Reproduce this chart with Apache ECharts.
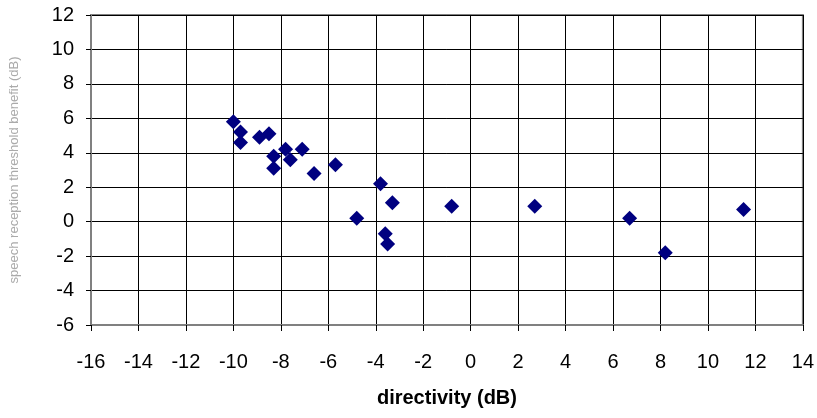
<!DOCTYPE html>
<html>
<head>
<meta charset="utf-8">
<script src="https://cdn.jsdelivr.net/npm/echarts@6/dist/echarts.min.js"></script>
<style>html,body{margin:0;padding:0;background:#fff}#c{width:817px;height:418px}</style>
</head>
<body>
<div id="c"></div>
<script>
const xValues = [-10.0, -9.7, -9.7, -8.9, -8.5, -8.3, -8.3, -7.8, -7.6, -7.1, -6.6, -5.7, -3.8, -3.3, -4.8, -3.6, -3.5, -0.8, 2.7, 6.7, 8.2, 11.5];
const yValues = [5.8, 5.2, 4.6, 4.9, 5.1, 3.8, 3.1, 4.2, 3.6, 4.2, 2.8, 3.3, 2.2, 1.1, 0.2, -0.7, -1.3, 0.9, 0.9, 0.2, -1.8, 0.7];
const xAxisTitle = 'directivity (dB)';
const yAxisTitle = 'speech reception threshold benefit (dB)';

const data = xValues.map((x, i) => [x, yValues[i]]);
const chart = echarts.init(document.getElementById('c'), null, {renderer: 'canvas'});
chart.setOption({
  animation: false,
  backgroundColor: '#fff',
  grid: {left: 89, right: 14, top: 15, bottom: 93, show: true, borderColor: '#808080', borderWidth: 2, backgroundColor: 'transparent'},
  xAxis: {
    type: 'value', min: -16, max: 14, interval: 2,
    name: xAxisTitle, nameLocation: 'middle', nameGap: 63,
    nameTextStyle: {fontFamily: 'Liberation Sans', fontSize: 20, fontWeight: 'bold', color: '#000'},
    axisLine: {show: true, onZero: false, lineStyle: {color: '#808080', width: 2}},
    axisTick: {show: true, length: 6, lineStyle: {color: '#000'}},
    axisLabel: {fontFamily: 'Liberation Sans', fontSize: 20, color: '#000', margin: 27},
    splitLine: {show: true, lineStyle: {color: '#000', width: 1}}
  },
  yAxis: {
    type: 'value', min: -6, max: 12, interval: 2,
    name: yAxisTitle, nameLocation: 'middle', nameGap: 70, nameRotate: 90,
    nameTextStyle: {fontFamily: 'Liberation Sans', fontSize: 13, color: '#aaa'},
    axisLine: {show: true, onZero: false, lineStyle: {color: '#808080', width: 2}},
    axisTick: {show: true, length: 5, lineStyle: {color: '#000'}},
    axisLabel: {fontFamily: 'Liberation Sans', fontSize: 20, color: '#000', margin: 17},
    splitLine: {show: true, lineStyle: {color: '#000', width: 1}}
  },
  series: [{
    type: 'scatter', data: data, symbol: 'diamond', symbolSize: 15,
    itemStyle: {color: '#000080', opacity: 1}
  }]
});
</script>
</body>
</html>
